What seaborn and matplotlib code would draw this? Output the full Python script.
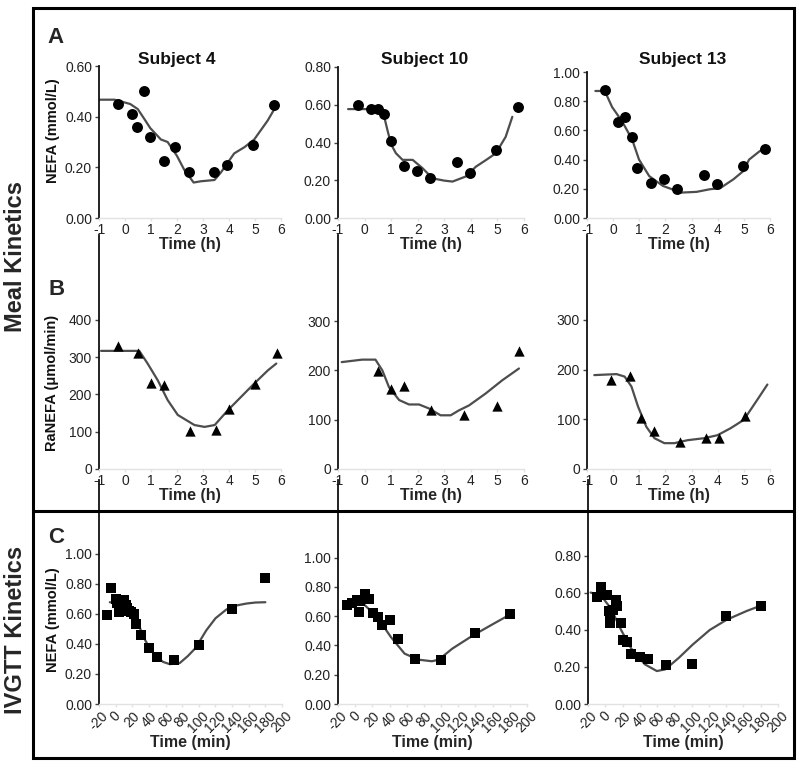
import matplotlib
matplotlib.use('Agg')
import matplotlib.pyplot as plt
import seaborn as sns
from matplotlib.ticker import FormatStrFormatter
from matplotlib.patches import Rectangle
from matplotlib.lines import Line2D

# ---- Panel A: NEFA (mmol/L) after meal, points and model fit ----
a1_t = [-0.28, 0.27, 0.46, 0.74, 0.97, 1.49, 1.94, 2.45, 3.44, 3.92, 4.94, 5.74]
a1_y = [0.45, 0.41, 0.36, 0.50, 0.32, 0.225, 0.28, 0.18, 0.18, 0.21, 0.29, 0.445]
a1_ft = [-1, -0.4, 0.2, 0.49, 0.75, 0.97, 1.38, 1.64, 2.0, 2.28, 2.64, 2.92, 3.44, 3.69, 4.2, 4.6, 4.97, 5.49, 5.8]
a1_fy = [0.467, 0.467, 0.45, 0.43, 0.39, 0.355, 0.31, 0.30, 0.245, 0.19, 0.14, 0.145, 0.15, 0.18, 0.255, 0.28, 0.31, 0.385, 0.44]

a2_t = [-0.25, 0.24, 0.49, 0.74, 1.0, 1.48, 1.98, 2.47, 3.46, 3.95, 4.95, 5.76]
a2_y = [0.60, 0.577, 0.577, 0.55, 0.41, 0.276, 0.25, 0.214, 0.295, 0.237, 0.36, 0.59]
a2_ft = [-0.62, 0.67, 0.86, 1.0, 1.18, 1.43, 1.81, 2.18, 2.56, 3.0, 3.31, 3.81, 4.19, 4.6, 4.94, 5.31, 5.56]
a2_fy = [0.577, 0.577, 0.466, 0.39, 0.343, 0.308, 0.308, 0.264, 0.21, 0.198, 0.193, 0.22, 0.272, 0.31, 0.343, 0.43, 0.536]

a3_t = [-0.32, 0.18, 0.45, 0.71, 0.93, 1.44, 1.96, 2.45, 3.46, 3.96, 4.97, 5.8]
a3_y = [0.876, 0.66, 0.69, 0.554, 0.344, 0.242, 0.265, 0.20, 0.296, 0.23, 0.355, 0.475]
a3_ft = [-0.68, -0.32, -0.04, 0.35, 0.73, 0.99, 1.38, 1.9, 2.6, 3.19, 3.7, 4.09, 4.6, 4.97, 5.2, 5.6, 5.8]
a3_fy = [0.87, 0.87, 0.76, 0.66, 0.536, 0.40, 0.287, 0.22, 0.174, 0.179, 0.197, 0.204, 0.265, 0.32, 0.40, 0.457, 0.475]

# ---- Panel B: RaNEFA (umol/min) ----
b1_t = [-0.26, 0.49, 1.0, 1.49, 2.5, 3.5, 4.0, 5.0, 5.83]
b1_y = [330, 310, 232, 225, 102, 104, 162, 227, 310]
b1_ft = [-0.92, 0.55, 0.87, 1.26, 1.64, 2.03, 2.67, 3.06, 3.45, 3.96, 4.47, 4.98, 5.5, 5.82]
b1_fy = [317, 317, 283, 238, 185, 145, 118, 113, 118, 158, 194, 230, 265, 283]

b2_t = [0.51, 1.0, 1.48, 2.5, 3.74, 5.0, 5.81]
b2_y = [198, 162, 169, 119, 109, 128, 239]
b2_ft = [-0.86, -0.09, 0.41, 0.67, 0.92, 1.3, 1.67, 2.05, 2.42, 2.86, 3.24, 3.55, 3.93, 4.55, 5.18, 5.81]
b2_fy = [217, 222, 222, 200, 166, 140, 131, 131, 123, 109, 109, 119, 129, 153, 180, 204]

b3_t = [-0.1, 0.66, 1.05, 1.56, 2.57, 3.57, 4.05, 5.06]
b3_y = [179, 188, 103, 77, 54, 63, 63, 107]
b3_ft = [-0.72, 0.13, 0.44, 0.7, 0.95, 1.27, 1.58, 1.96, 2.34, 2.85, 3.48, 3.99, 4.49, 5.0, 5.51, 5.9]
b3_fy = [189, 191, 186, 166, 126, 85, 62, 52, 52, 58, 62, 68, 82, 99, 139, 170]

# ---- Panel C: NEFA (mmol/L) during IVGTT ----
c1_t = [-10, -5, 0, 2, 4, 6, 8, 10, 12, 14, 16, 19, 22, 25, 30, 40, 50, 70, 100, 140, 180]
c1_y = [0.59, 0.77, 0.70, 0.67, 0.61, 0.68, 0.65, 0.69, 0.66, 0.64, 0.62, 0.61, 0.60, 0.53, 0.46, 0.37, 0.31, 0.295, 0.39, 0.63, 0.835]
c1_ft = [-7, 10, 21, 27, 33, 41, 49, 57, 65, 77, 87, 96, 109, 120, 133, 145, 157, 168, 180]
c1_fy = [0.677, 0.665, 0.628, 0.54, 0.45, 0.37, 0.316, 0.28, 0.265, 0.272, 0.32, 0.372, 0.49, 0.57, 0.628, 0.655, 0.668, 0.675, 0.677]

c2_t = [-10, -4, 2, 4, 6, 12, 16, 21, 26, 31, 40, 50, 70, 100, 140, 180]
c2_y = [0.675, 0.69, 0.71, 0.625, 0.705, 0.75, 0.715, 0.62, 0.595, 0.54, 0.575, 0.445, 0.31, 0.30, 0.485, 0.615]
c2_ft = [-2, 9.8, 25.7, 41.6, 57.5, 73.4, 89.3, 97.3, 113, 137, 161, 183]
c2_fy = [0.695, 0.683, 0.593, 0.457, 0.344, 0.303, 0.292, 0.303, 0.378, 0.468, 0.548, 0.62]

c3_t = [-10, -5, 2, 4, 5, 6, 9, 12, 14, 18, 21, 25, 30, 40, 50, 70, 100, 140, 180]
c3_y = [0.58, 0.63, 0.59, 0.50, 0.44, 0.48, 0.51, 0.56, 0.53, 0.44, 0.345, 0.335, 0.27, 0.255, 0.245, 0.21, 0.215, 0.475, 0.53]
c3_ft = [-17, -5.4, 6.4, 18.3, 30, 45.9, 59.7, 69.5, 85.3, 101, 121, 140.5, 164, 180]
c3_fy = [0.602, 0.588, 0.517, 0.40, 0.30, 0.214, 0.178, 0.187, 0.25, 0.32, 0.40, 0.455, 0.503, 0.531]

subjects = ['Subject 4', 'Subject 10', 'Subject 13']
hours_ticks = [-1, 0, 1, 2, 3, 4, 5, 6]
min_ticks = list(range(-20, 201, 20))

sns.set_theme(style='white')
plt.rcParams['font.family'] = ['Liberation Sans', 'DejaVu Sans']
plt.rcParams['axes.unicode_minus'] = False

W, H = 800, 767
fig = plt.figure(figsize=(8, 7.67), dpi=100)
LINE = '#4d4d4d'


def box(l, t, r, b):
    return fig.add_axes([l / W, 1 - b / H, (r - l) / W, (b - t) / H])


def ftext(x, y, s, **kw):
    fig.text(x / W, 1 - y / H, s, **kw)


def panel(ax, pt, py, ft, fy, marker, ms, xlim, ylim, xticks, yticks, fmt, xlabel, rot=0):
    sns.lineplot(x=ft, y=fy, ax=ax, color=LINE, lw=1.6, sort=False)
    sns.scatterplot(x=pt, y=py, ax=ax, marker=marker, s=ms, color='black',
                    linewidth=0, zorder=3, clip_on=False)
    ax.set_xlim(xlim)
    ax.set_ylim(ylim)
    ax.set_xticks(xticks)
    ax.set_yticks(yticks)
    ax.yaxis.set_major_formatter(FormatStrFormatter(fmt))
    sns.despine(ax=ax)
    ax.spines['left'].set_color('#111111')
    ax.spines['left'].set_linewidth(1.3)
    ax.spines['bottom'].set_color('#e2e2e2')
    ax.spines['bottom'].set_linewidth(1.0)
    ax.tick_params(axis='y', left=True, length=3, width=1, color='#444444',
                   pad=2, labelsize=10, labelcolor='#222222')
    ax.tick_params(axis='x', bottom=True, length=2, width=1, color='#e2e2e2',
                   pad=1.5, labelsize=10, labelcolor='#222222')
    if rot:
        for lab in ax.get_xticklabels():
            lab.set_rotation(rot)
            lab.set_ha('center')
    ax.set_xlabel(xlabel, fontsize=11.5, fontweight='bold', labelpad=0)
    ax.set_ylabel('')
    ax.patch.set_alpha(0)


# column pixel extents
cols = [(99, 281), (338, 524), (587, 770)]
ccols = [(99, 282), (338, 527), (588, 778)]

# row A
a_tops = [66, 67, 72]
a_ylims = [(0, 0.6), (0, 0.8), (0, 1.0)]
a_yt = [[0, 0.2, 0.4, 0.6], [0, 0.2, 0.4, 0.6, 0.8], [0, 0.2, 0.4, 0.6, 0.8, 1.0]]
a_data = [(a1_t, a1_y, a1_ft, a1_fy), (a2_t, a2_y, a2_ft, a2_fy), (a3_t, a3_y, a3_ft, a3_fy)]
for i in range(3):
    ax = box(cols[i][0], a_tops[i], cols[i][1], 218)
    pt, py, ft, fy = a_data[i]
    panel(ax, pt, py, ft, fy, 'o', 62, (-1, 6), a_ylims[i], hours_ticks, a_yt[i], '%.2f', 'Time (h)')
    ftext([177, 425, 683][i], 64, subjects[i], fontsize=12.5, fontweight='bold',
          ha='center', va='baseline', color='#111111')

# row B
b_ylims = [(0, 628), (0, 475), (0, 471)]
b_yt = [[0, 100, 200, 300, 400], [0, 100, 200, 300], [0, 100, 200, 300]]
b_data = [(b1_t, b1_y, b1_ft, b1_fy), (b2_t, b2_y, b2_ft, b2_fy), (b3_t, b3_y, b3_ft, b3_fy)]
for i in range(3):
    ax = box(cols[i][0], 235, cols[i][1], 469)
    pt, py, ft, fy = b_data[i]
    panel(ax, pt, py, ft, fy, '^', 55, (-1, 6), b_ylims[i], hours_ticks, b_yt[i], '%d', 'Time (h)')

# row C
c_ylims = [(0, 1.49), (0, 1.53), (0, 1.21)]
c_yt = [[0, 0.2, 0.4, 0.6, 0.8, 1.0], [0, 0.2, 0.4, 0.6, 0.8, 1.0], [0, 0.2, 0.4, 0.6, 0.8]]
c_data = [(c1_t, c1_y, c1_ft, c1_fy), (c2_t, c2_y, c2_ft, c2_fy), (c3_t, c3_y, c3_ft, c3_fy)]
for i in range(3):
    ax = box(ccols[i][0], 480, ccols[i][1], 704)
    pt, py, ft, fy = c_data[i]
    panel(ax, pt, py, ft, fy, 's', 45, (-20, 200), c_ylims[i], min_ticks, c_yt[i], '%.2f',
          'Time (min)', rot=45)

# y labels
ftext(53, 131, 'NEFA (mmol/L)', rotation=90, fontsize=10.5, fontweight='bold',
      ha='center', va='center', color='#111111')
ftext(52, 383, 'RaNEFA (\u03bcmol/min)', rotation=90, fontsize=10.5, fontweight='bold',
      ha='center', va='center', color='#111111')
ftext(53, 620, 'NEFA (mmol/L)', rotation=90, fontsize=10.5, fontweight='bold',
      ha='center', va='center', color='#111111')

# panel letters
ftext(47, 43, 'A', fontsize=16, fontweight='bold', ha='left', va='baseline')
ftext(48, 295, 'B', fontsize=16, fontweight='bold', ha='left', va='baseline')
ftext(48, 543, 'C', fontsize=16, fontweight='bold', ha='left', va='baseline')

# section labels
ftext(16, 256, 'Meal Kinetics', rotation=90, fontsize=17, fontweight='bold',
      ha='center', va='center')
ftext(16, 630, 'IVGTT Kinetics', rotation=90, fontsize=17, fontweight='bold',
      ha='center', va='center')

# outer frame and separator
fig.add_artist(Rectangle((33 / W, 1 - 758 / H), (794 - 33) / W, (758 - 8) / H,
                         transform=fig.transFigure, fill=False, lw=2.2, ec='black'))
fig.add_artist(Line2D([33 / W, 794 / W], [1 - 511 / H, 1 - 511 / H],
                      transform=fig.transFigure, lw=2.2, color='black'))

fig.savefig('out.png', dpi=100)
